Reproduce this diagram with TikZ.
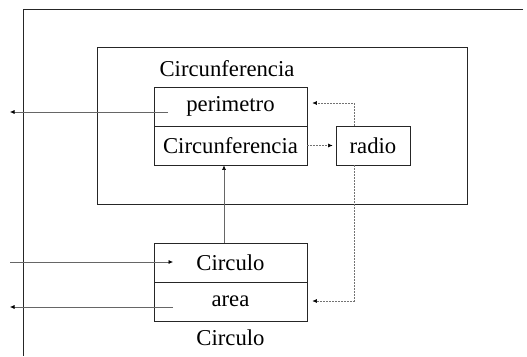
\documentclass[tikz,border=0pt]{standalone}
\usepackage{fontspec}
\setmainfont{Liberation Serif}
\usetikzlibrary{arrows.meta}
\tikzset{
  frame/.style={draw=black!85, line width=1pt},
  cell/.style={draw=black!85, line width=0.8pt, minimum width=153pt, minimum height=39pt, inner sep=0pt, font=\fontsize{22.7}{27}\selectfont},
  lbl/.style={inner sep=0pt, font=\fontsize{22.7}{27}\selectfont},
  flow/.style={draw=black!60, line width=0.6pt, -{Latex[length=4.5pt,width=4pt,black,fill=black]}},
  dep/.style={draw=black!55, line width=0.5pt, dash pattern=on 2pt off 1pt, -{Latex[length=4.5pt,width=4pt,black,fill=black,sep=0pt]}}
}
\begin{document}
\begin{tikzpicture}[x=1pt,y=-1pt]
\useasboundingbox (0,0) rectangle (527,356);
% enclosing frame, open at right and bottom
\draw[frame] (523,9) -- (23,9) -- (23,356);
% class Circunferencia
\draw[frame] (97,47) rectangle (467,204);
\node[lbl] (ctitle) at (227,69) {Circunferencia};
\node[cell] (perim) at (230.5,106.5) {perimetro};
\node[cell] (circ) at (230.5,145.5) {Circunferencia};
\node[cell, minimum width=74pt] (radio) at (373,145.5) {radio};
% class Circulo
\node[cell] (ccirc) at (230.5,262.5) {Circulo};
\node[cell] (area) at (230.5,301.5) {area};
\node[lbl] (ctitle2) at (230.5,338) {Circulo};
% ports
\coordinate (pout) at (10,112);
\coordinate (pin) at (168,112);
\coordinate (cin) at (10,262);
\coordinate (cend) at (173,262);
\coordinate (aout) at (10,307);
\coordinate (ain) at (173,307);
% solid connectors
\draw[flow] (pin) -- (pout);
\draw[flow] (cin) -- (cend);
\draw[flow] (ain) -- (aout);
\draw[flow] (ccirc.north -| 224,0) -- (circ.south -| 224,0);
% dashed dependencies
\draw[dep] (circ.east) -- ([xshift=-3pt]radio.west);
\draw[dep] (radio.north -| 354,0) |- ([xshift=5pt]perim.east |- 0,103);
\draw[dep] (radio.south -| 354,0) |- ([xshift=5pt]area.east |- 0,301);
\end{tikzpicture}
\end{document}
